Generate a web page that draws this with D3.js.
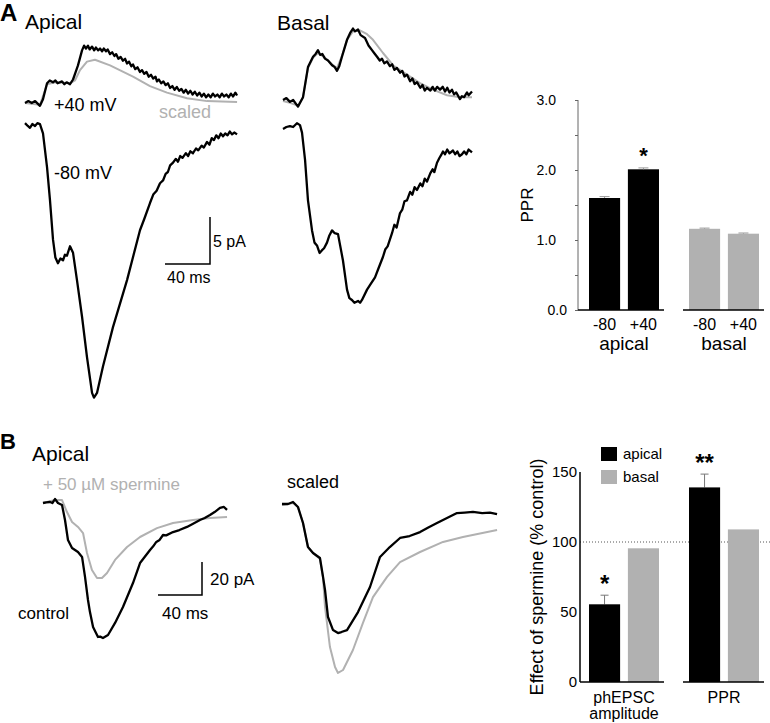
<!DOCTYPE html>
<html>
<head>
<meta charset="utf-8">
<script src="https://cdn.jsdelivr.net/npm/d3@7"></script>
<style>
body { margin: 0; background: #fff; }
text { font-family: "Liberation Sans", Arial, sans-serif; }
</style>
</head>
<body>
<script>
// ---- panel A traces, [time ms, current pA] ----
const apicalPos = [[0,0],[3,0.2],[6,0.0],[9,0.2],[13.3,-0.3],[16,0.4],[19.6,2.1],[22,2.4],[24.9,2.2],[27,2.4],[29,2.1],[32.9,2.3],[35,2.0],[37,2.2],[40,2.0],[42.7,2.5],[47.1,4.0],[50.7,5.6],[52.5,6.1],[54.2,5.8],[56,6.1],[57.5,5.7],[59.6,6.0],[61.5,5.6],[63,5.9],[65,5.6],[66.7,5.8],[68.5,5.5],[70,5.8],[72,5.5],[73.5,5.7],[75.6,5.2],[77.5,5.4],[79.5,5.0],[81,5.2],[83,4.7],[85,4.9],[87,4.5],[89,4.7],[90.7,4.2],[92.5,4.4],[94.5,3.9],[96,4.1],[98,3.6],[100,3.8],[102.2,3.3],[104,3.5],[106,3.1],[108,3.3],[110,2.8],[112,3.0],[114,2.6],[116,2.8],[117.3,2.3],[119,2.5],[121,2.1],[123,2.3],[125,1.9],[127,2.1],[129,1.6],[131,1.8],[133,1.4],[135,1.7],[137,1.3],[139,1.5],[141,1.1],[143,1.4],[145,1.0],[147,1.3],[149,0.9],[151,1.2],[153,0.8],[155,1.1],[157,0.7],[159,1.0],[161,0.6],[163,0.9],[165,0.6],[167,1.0],[169,0.7],[171,0.9],[173,0.6],[175,1.0],[177,0.7],[179,0.9],[181,0.6],[183,1.0],[185,0.7],[187,1.1],[188.5,0.8]];
const apicalPosScaled = [[0,0],[13.3,-0.2],[19.6,2.0],[26.7,2.2],[40,2.1],[44.4,2.4],[48.9,3.5],[55.1,4.4],[62.2,4.6],[75.6,4.0],[96,2.8],[111.1,1.8],[126.2,1.1],[144,0.5],[161.8,0.2],[188.5,0.1]];
const apicalNeg = [[0,0.2],[2.5,-0.1],[4.4,-0.3],[6.5,0.1],[8.9,-0.1],[11,0.2],[13.3,0.1],[16,-0.9],[19.6,-4.5],[22.2,-8.0],[24.9,-12.2],[27,-14.1],[29.3,-14.7],[31.5,-14.2],[33.8,-14.4],[35.5,-13.8],[37.3,-13.9],[40,-12.9],[42.7,-13.6],[46.2,-16.5],[50.7,-20.4],[55.1,-24.7],[59.6,-28.5],[61.3,-29.0],[64,-28.5],[69.3,-25.7],[78.2,-21.5],[90.7,-16.5],[102.2,-11.2],[106,-10.0],[111.1,-8.3],[114,-7.4],[117,-7.0],[120,-6.2],[122.7,-5.9],[125,-5.2],[127,-5.0],[129,-4.3],[131.6,-4.0],[134,-3.6],[136,-3.9],[138,-3.3],[140,-3.5],[143,-3.0],[145,-3.3],[147,-2.8],[149.3,-3.0],[152,-2.5],[154,-2.7],[157,-2.2],[159,-2.4],[161.8,-1.8],[164,-2.1],[166,-1.4],[168,-1.6],[170,-1.1],[172,-1.4],[174,-0.9],[176,-1.2],[178,-0.9],[180,-1.1],[182,-0.7],[184,-1.0],[186,-0.8],[188.5,-1.0]];
const basalPos = [[0,0],[3,0.2],[6.2,-0.2],[9,0.0],[13.3,-0.7],[17.8,0.3],[22.2,3.5],[26.7,4.6],[29,4.9],[31.1,5.3],[33,4.8],[35,4.9],[37.3,4.4],[40,4.2],[43.6,3.7],[46,3.5],[48,3.1],[50,3.6],[52.4,4.6],[56.9,6.4],[60,7.2],[62.2,7.6],[64,7.3],[66.7,7.5],[69,6.9],[72.9,6.6],[76,5.8],[79.1,5.3],[81,5.0],[83.6,4.6],[86,4.2],[88,4.4],[90,3.9],[92.4,4.1],[95,3.6],[97,3.8],[99,3.2],[101.3,3.4],[104,2.9],[106,3.1],[108,2.5],[110.2,2.7],[113,2.0],[115,2.3],[117,1.7],[119.1,1.9],[122,1.3],[124,1.6],[126,1.0],[128,1.3],[131,1.0],[133,1.4],[135,1.0],[137,1.4],[139.6,1.1],[142,1.4],[144,0.9],[146,1.3],[148,0.8],[150.2,1.1],[152,0.6],[154,0.8],[157.3,0.1],[159,0.4],[161,0.3],[163.6,0.8],[165,0.5],[168,0.9]];
const basalPosScaled = [[0,-0.1],[6.2,-0.3],[13.3,-0.6],[17.8,0.3],[22.2,3.4],[26.7,4.5],[31.1,5.0],[37.3,4.5],[43.6,3.8],[48,3.4],[52.4,4.7],[56.9,6.4],[62.2,7.3],[68.4,7.4],[74.7,7.0],[80,6.4],[88.9,5.0],[97.8,3.7],[110.2,2.7],[121.8,1.8],[133.3,1.1],[145.8,0.5],[157.3,0.3],[168,0.3]];
const basalNeg = [[0,-0.2],[3,0.0],[6.2,0.1],[9,0.0],[12.4,0.4],[15.1,0.2],[16.9,-0.6],[19.6,-3.5],[22.2,-7.8],[25.8,-11.0],[28,-12.3],[30.2,-12.6],[32.5,-13.4],[34.7,-13.1],[36.5,-12.9],[39.1,-12.3],[41,-11.6],[43.6,-11.0],[46,-11.3],[48.9,-11.4],[53.3,-14.2],[56.9,-17.3],[59,-18.2],[61.3,-18.4],[63.5,-18.7],[66.7,-18.5],[68.5,-18.7],[70.2,-18.4],[74.7,-17.3],[78,-16.7],[81.8,-16.0],[85,-15.0],[88.9,-13.8],[91,-13.0],[93,-12.7],[96.9,-11.3],[99,-10.4],[101,-10.7],[103.9,-9.2],[106,-8.8],[108,-7.9],[110.2,-7.8],[113,-6.9],[115,-7.2],[117,-6.4],[119.1,-6.7],[122,-6.0],[124,-6.3],[126,-5.5],[128,-5.8],[131,-4.9],[133,-4.5],[134.5,-4.8],[136.9,-3.8],[139,-3.3],[140.5,-3.0],[142.2,-2.6],[144,-2.9],[146,-2.4],[148,-2.8],[151.1,-2.5],[153,-2.9],[155,-2.6],[157,-3.1],[159.1,-2.9],[161,-2.6],[163,-2.9],[165,-2.4],[168,-2.7]];

// ---- panel A bars ----
const pprGroups = ["apical", "basal"];
const pprConds = ["-80", "+40"];
const pprValues = [[1.60, 2.01], [1.16, 1.09]];
const pprErrors = [[0.02, 0.02], [0.01, 0.01]];
const pprTicks = [0, 0.5, 1, 1.5, 2, 2.5, 3];

// ---- panel B traces ----
const bControl = [[0,0],[3,0.4],[6.4,0.6],[8.5,0.0],[10.9,2.4],[13.6,0],[17.3,-1.2],[20,-10.3],[22.7,-22.4],[26.4,-27.3],[31.8,-29.7],[35.5,-32.7],[38.2,-44.8],[40.9,-58.8],[42.7,-66.1],[45.5,-75.1],[50,-81.2],[52,-81.0],[54.5,-81.8],[59.1,-80],[65.5,-72.7],[72.7,-63],[81.8,-48.5],[88.2,-36.4],[97.3,-28.5],[100,-26.4],[103,-23.6],[106,-22.4],[109.1,-19.4],[112,-19.6],[118.2,-17.6],[124,-16.4],[130.9,-14.5],[136,-12.7],[142.7,-10.3],[147,-9.1],[151.8,-7.3],[156,-5.5],[160.9,-3.0],[164.5,-2.4],[167.3,-4.2]];
const bSpermine = [[0,0],[10.9,1.8],[17.3,1.8],[21.8,-5.5],[26.4,-11.5],[31.8,-14.5],[36.4,-18.2],[40,-30.3],[44.5,-40.6],[49.1,-45.5],[53.6,-45.5],[58.2,-42.4],[65.5,-34.5],[76.4,-26.7],[88.2,-20.6],[103.6,-15.2],[118.2,-12.1],[136.4,-10.3],[151.8,-9.1],[167.3,-8.5]];
const bScaledControl = [[0,0],[5.5,0],[10,1.2],[14.5,-1.8],[19.1,-11.5],[23.6,-26.1],[28.2,-29.7],[34.5,-32.7],[37.3,-44.2],[39.1,-52.1],[41.8,-68.5],[46.4,-76.4],[50.9,-78.2],[54,-77.6],[59.1,-76.4],[69.1,-65.5],[80,-50.3],[89.1,-32.1],[98,-26.1],[107.3,-20.6],[116,-19.4],[125.5,-17],[133,-14.2],[140.9,-11.5],[150,-8.5],[159.1,-5.5],[166,-5.2],[173.6,-4.8],[182,-5.5],[189,-5.2],[195.5,-6.1]];
const bScaledSpermine = [[0,-0.6],[10,0.6],[14.5,-1.8],[19.1,-11.5],[23.6,-26.1],[28.2,-29.7],[34.5,-33.3],[37.3,-44.8],[39.1,-62.4],[43.6,-86.7],[48.2,-98.8],[50.9,-102.4],[55.5,-100.6],[64.5,-88.5],[73.6,-72.1],[82.7,-56.4],[95.5,-44.2],[107.3,-35.2],[125.5,-29.1],[146.4,-23],[164.5,-20],[195.5,-15.8]];

// ---- panel B bars ----
const effGroups = ["phEPSC amplitude", "PPR"];
const effConds = ["apical", "basal"];
const effValues = [[55.5, 95.5], [139, 109]];
const effErrors = [[6.5, 0], [9.5, 0]];
const effTicks = [0, 50, 100, 150];

const GREY = "#b1b1b1";

const svg = d3.select("body").append("svg")
    .attr("width", 770).attr("height", 723);

function label(x, y, txt, size, opts) {
    opts = opts || {};
    return svg.append("text")
        .attr("x", x).attr("y", y)
        .attr("font-size", size)
        .attr("font-weight", opts.bold ? "bold" : null)
        .attr("fill", opts.fill || "#000")
        .attr("text-anchor", opts.anchor || "start")
        .text(txt);
}

// one group of traces sharing time / current scales
function tracePanel(x0, pxPerMs, pxPerPa) {
    const x = d3.scaleLinear().domain([0, 200]).range([x0, x0 + 200 * pxPerMs]);
    return {
        x,
        draw(data, base, color, w) {
            const y = d3.scaleLinear().domain([0, 10]).range([base, base - 10 * pxPerPa]);
            const line = d3.line().x(d => x(d[0])).y(d => y(d[1]));
            svg.append("path").datum(data)
                .attr("d", line)
                .attr("fill", "none")
                .attr("stroke", color)
                .attr("stroke-width", w)
                .attr("stroke-linejoin", "round");
            return y;
        }
    };
}

function scaleBar(p, y, xEnd, ms, pa) {
    // horizontal ends at xEnd, vertical rises from the corner
    const xs = p.x;
    const len = xs(ms) - xs(0);
    const h = y(0) - y(pa);
    const cx = xEnd, cy = y(0);
    svg.append("path")
        .attr("d", `M${cx - len},${cy}H${cx}V${cy - h}`)
        .attr("fill", "none").attr("stroke", "#000").attr("stroke-width", 1.5);
}

// ===== A =====
label(0, 21, "A", 24, {bold: true});
label(25, 29, "Apical", 21);
label(277, 30, "Basal", 21);

const pA1 = tracePanel(25, 1.125, 9.4);
pA1.draw(apicalPosScaled, 103, GREY, 2);
pA1.draw(apicalPos, 103, "#000", 2.3);
pA1.draw(apicalNeg, 125, "#000", 2.3);
label(54, 111, "+40 mV", 18);
label(159, 118, "scaled", 18, {fill: GREY});
label(54, 179, "-80 mV", 18);

// scale bar A: 40 ms, 5 pA
const sbA = d3.scaleLinear().domain([0, 10]).range([264, 264 - 94]);
scaleBar(pA1, sbA, 210, 40, 5);
label(213, 247, "5 pA", 16);
label(167, 283, "40 ms", 16);

const pA2 = tracePanel(283, 1.125, 9.4);
pA2.draw(basalPosScaled, 100, GREY, 2);
pA2.draw(basalPos, 100, "#000", 2.3);
pA2.draw(basalNeg, 127, "#000", 2.3);

// PPR bars
const yPPR = d3.scaleLinear().domain([0, 3]).range([310, 100]);
const xg = d3.scaleBand().domain(pprGroups).range([589, 759]).paddingInner(0.3);
const xc = d3.scaleBand().domain(pprConds).range([0, xg.bandwidth()]).paddingInner(0.2);

const axA = svg.append("g").attr("transform", "translate(578,0)")
    .call(d3.axisLeft(yPPR).tickValues(pprTicks).tickSize(3).tickPadding(19)
        .tickFormat(d => d % 1 === 0 ? d3.format(".1f")(d) : ""));
axA.select(".domain").attr("stroke", "#666").attr("d", `M0,${yPPR(3)}V${yPPR(0)}`);
axA.selectAll(".tick line").attr("stroke", "#666");
axA.selectAll(".tick text").attr("font-size", 14).attr("font-family", "Liberation Sans, Arial, sans-serif").attr("fill", "#000");
axA.selectAll(".tick").filter(d => d === 0).select("text").attr("dx", 11);

pprGroups.forEach((g, gi) => {
    pprConds.forEach((c, ci) => {
        const x = xg(g) + xc(c);
        const v = pprValues[gi][ci], e = pprErrors[gi][ci];
        svg.append("rect")
            .attr("x", x).attr("y", yPPR(v))
            .attr("width", xc.bandwidth()).attr("height", yPPR(0) - yPPR(v))
            .attr("fill", gi === 0 ? "#000" : GREY);
        const cx = x + xc.bandwidth() / 2;
        svg.append("path")
            .attr("d", `M${cx},${yPPR(v)}V${yPPR(v + e)}M${cx - 5},${yPPR(v + e)}H${cx + 5}`)
            .attr("stroke", "#999").attr("stroke-width", 1);
        label(cx, 330, c, 16, {anchor: "middle"});
    });
    const x0 = gi === 0 ? 578 : xg(g) - 6;
    svg.append("line")
        .attr("x1", x0).attr("x2", xg(g) + xg.bandwidth() + 5)
        .attr("y1", yPPR(0)).attr("y2", yPPR(0))
        .attr("stroke", "#000").attr("stroke-width", 1.5);
    label(xg(g) + xg.bandwidth() / 2, 350, g, 19, {anchor: "middle"});
});
label(xg("apical") + xc("+40") + xc.bandwidth() / 2, yPPR(pprValues[0][1]) - 6, "*", 22, {anchor: "middle", bold: true});

svg.append("text")
    .attr("transform", `translate(533,${yPPR(1.5)}) rotate(-90)`)
    .attr("text-anchor", "middle")
    .attr("font-size", 17)
    .text("PPR");

// ===== B =====
label(0, 449, "B", 22, {bold: true});
label(32, 461, "Apical", 21);
label(43, 490, "+ 50 \u00B5M spermine", 17, {fill: GREY});
label(287, 488, "scaled", 18);

const pB1 = tracePanel(43, 1.1, 1.65);
pB1.draw(bSpermine, 503, GREY, 2);
pB1.draw(bControl, 503, "#000", 2.3);
label(18, 619, "control", 17);

const sbB = d3.scaleLinear().domain([0, 10]).range([595, 595 - 16.5]);
scaleBar(pB1, sbB, 202, 40, 20);
label(210, 585, "20 pA", 17);
label(162, 619, "40 ms", 17);

const pB2 = tracePanel(282, 1.1, 1.65);
pB2.draw(bScaledSpermine, 504, GREY, 2);
pB2.draw(bScaledControl, 504, "#000", 2.3);

// effect of spermine bars
const yEff = d3.scaleLinear().domain([0, 150]).range([682, 472]);
const xg2 = d3.scaleBand().domain(effGroups).range([589, 759]).paddingInner(0.3);
const xc2 = d3.scaleBand().domain(effConds).range([0, xg2.bandwidth()]).paddingInner(0.2);

svg.append("line")
    .attr("x1", 580).attr("x2", 770)
    .attr("y1", yEff(100)).attr("y2", yEff(100))
    .attr("stroke", "#555").attr("stroke-width", 1).attr("stroke-dasharray", "1,2");

const axB = svg.append("g").attr("transform", "translate(580,0)")
    .call(d3.axisLeft(yEff).tickValues(effTicks).tickSize(0).tickPadding(3));
axB.select(".domain").attr("stroke", "#000").attr("stroke-width", 1.5).attr("d", `M0,${yEff(150)}V${yEff(0)}`);
axB.selectAll(".tick text").attr("font-size", 15).attr("font-family", "Liberation Sans, Arial, sans-serif").attr("fill", "#000");

effGroups.forEach((g, gi) => {
    effConds.forEach((c, ci) => {
        const x = xg2(g) + xc2(c);
        const v = effValues[gi][ci], e = effErrors[gi][ci];
        const cx = x + xc2.bandwidth() / 2;
        if (e > 0) {
            svg.append("path")
                .attr("d", `M${cx},${yEff(v)}V${yEff(v + e)}M${cx - 4},${yEff(v + e)}H${cx + 4}`)
                .attr("stroke", "#777").attr("stroke-width", 1);
        }
        svg.append("rect")
            .attr("x", x).attr("y", yEff(v))
            .attr("width", xc2.bandwidth()).attr("height", yEff(0) - yEff(v))
            .attr("fill", ci === 0 ? "#000" : GREY);
    });
    const x0 = gi === 0 ? 580 : xg2(g) - 6;
    svg.append("line")
        .attr("x1", x0).attr("x2", xg2(g) + xg2.bandwidth() + 5)
        .attr("y1", yEff(0)).attr("y2", yEff(0))
        .attr("stroke", "#000").attr("stroke-width", 1.5);
});
const cxPh = xg2(effGroups[0]) + xg2.bandwidth() / 2;
label(cxPh, 703, "phEPSC", 16, {anchor: "middle"});
label(cxPh, 719, "amplitude", 16, {anchor: "middle"});
label(xg2(effGroups[1]) + xg2.bandwidth() / 2, 703, "PPR", 16, {anchor: "middle"});

const star1 = xg2(effGroups[0]) + xc2("apical") + xc2.bandwidth() / 2;
label(star1, yEff(effValues[0][0] + effErrors[0][0]) - 3, "*", 24, {anchor: "middle", bold: true});
const star2 = xg2(effGroups[1]) + xc2("apical") + xc2.bandwidth() / 2;
label(star2, yEff(effValues[1][0] + effErrors[1][0]) - 3, "**", 24, {anchor: "middle", bold: true});

// legend
effConds.forEach((c, i) => {
    svg.append("rect").attr("x", 601).attr("y", 447 + i * 23).attr("width", 16).attr("height", 14)
        .attr("fill", i === 0 ? "#000" : GREY);
    label(623, 459 + i * 23, c, 15);
});

svg.append("text")
    .attr("transform", `translate(543,${yEff(75)}) rotate(-90)`)
    .attr("text-anchor", "middle")
    .attr("font-size", 18)
    .text("Effect of spermine (% control)");
</script>
</body>
</html>
